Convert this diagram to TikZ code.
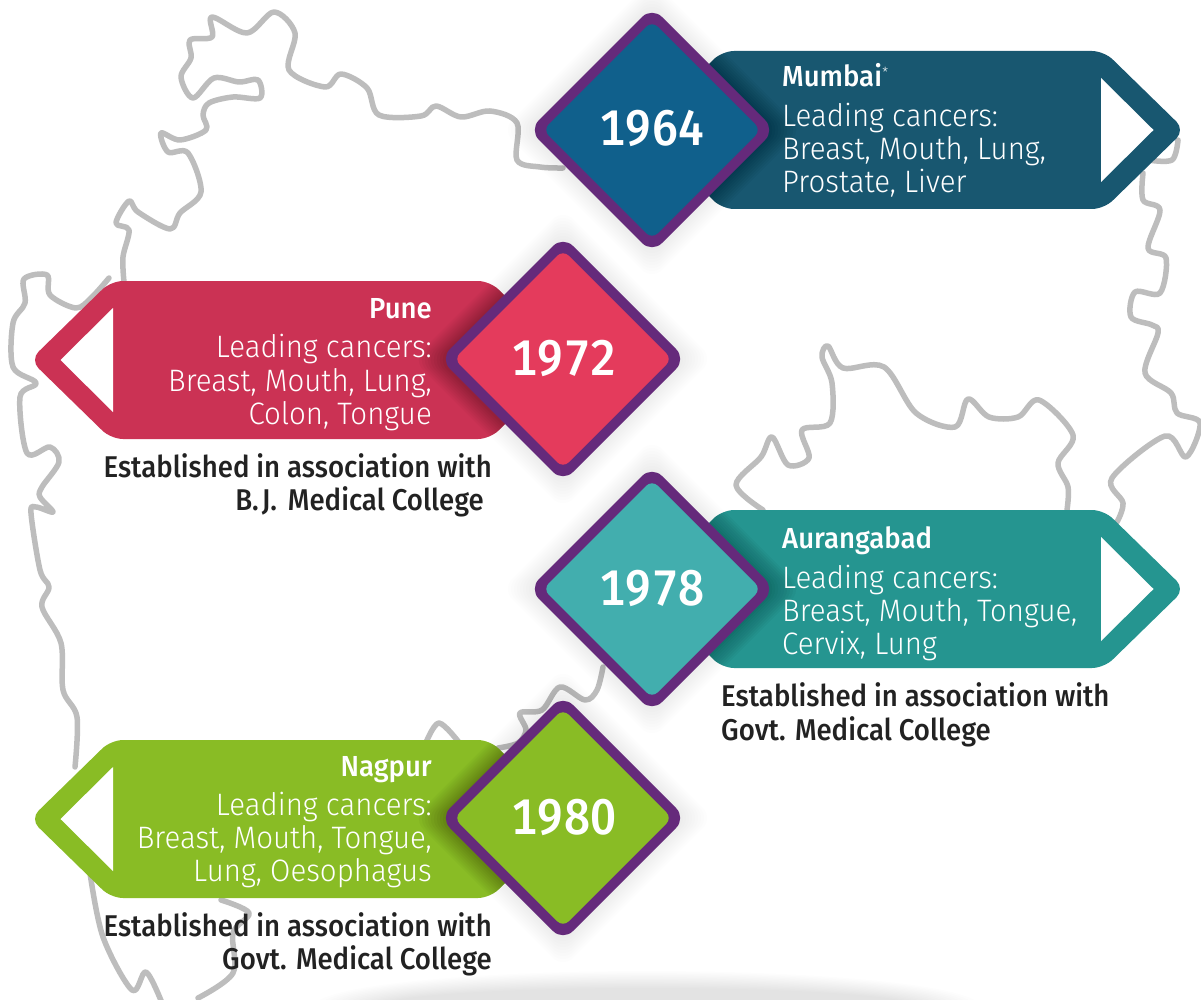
\documentclass[tikz,border=0pt]{standalone}
\usepackage{fontspec}
\setmainfont{Fira Sans}
\newfontfamily\lightf[FakeStretch=0.95]{Fira Sans Light}
\newfontfamily\cityf[FakeStretch=0.95]{Fira Sans Medium}
\newfontfamily\notef[FakeStretch=0.92]{Fira Sans Medium}
\newfontfamily\yearf[FakeStretch=0.93,Numbers=Monospaced]{Fira Sans Medium}
\definecolor{mapgray}{HTML}{BDBDBD}
\definecolor{ringpurple}{HTML}{652A7B}
\definecolor{mumA}{HTML}{185770}\definecolor{mumB}{HTML}{10608C}
\definecolor{punA}{HTML}{CB3254}\definecolor{punB}{HTML}{E43B5C}
\definecolor{aurA}{HTML}{259590}\definecolor{aurB}{HTML}{42AEAE}
\definecolor{nagA}{HTML}{89BC25}\definecolor{nagB}{HTML}{89BC25}
\definecolor{inkblack}{HTML}{222222}
\tikzset{
  x=1pt,y=-1pt,
  mapline/.style={draw=mapgray,line width=5.5pt,line cap=round,line join=round},
  city/.style={inner sep=0pt,text=white,font=\cityf\fontsize{29}{29}\selectfont},
  body/.style={inner sep=0pt,text=white,font=\lightf\fontsize{31}{31}\selectfont},
  note/.style={inner sep=0pt,text=inkblack,font=\notef\fontsize{30}{30}\selectfont},
  year/.style={inner sep=0pt,text=white,font=\yearf\fontsize{50}{50}\selectfont},
}
% nested dark diamonds: #1 cx, #2 cy, #3 opacity
\newcommand{\halo}[3]{%
  \foreach \k in {1,...,9}{%
    \fill[black,opacity=#3,rounded corners=14pt] (#1-123-\k*3,#2) -- (#1,#2-123-\k*3) -- (#1+123+\k*3,#2) -- (#1,#2+123+\k*3) -- cycle;}}
% right-pointing banner: #1 centre y, #2 colour
\newcommand{\bannerR}[2]{%
  \fill[#2,rounded corners=12pt] (643,#1) -- (722,#1-79) -- (1104,#1-79) -- (1185,#1) -- (1104,#1+79) -- (722,#1+79) -- cycle;
  \begin{scope}
    \clip[rounded corners=12pt] (643,#1) -- (722,#1-79) -- (1104,#1-79) -- (1185,#1) -- (1104,#1+79) -- (722,#1+79) -- cycle;
    \halo{652}{#1}{0.02}
  \end{scope}
  \fill[white] (1101,#1-52) -- (1153.5,#1) -- (1101,#1+52) -- cycle;}
% left-pointing banner
\newcommand{\bannerL}[2]{%
  \fill[#2,rounded corners=12pt] (569,#1) -- (490,#1-79) -- (111,#1-79) -- (30,#1) -- (111,#1+79) -- (490,#1+79) -- cycle;
  \begin{scope}
    \clip[rounded corners=12pt] (569,#1) -- (490,#1-79) -- (111,#1-79) -- (30,#1) -- (111,#1+79) -- (490,#1+79) -- cycle;
    \halo{563}{#1}{0.02}
  \end{scope}
  \fill[white] (113,#1-52) -- (60.5,#1) -- (113,#1+52) -- cycle;}
% diamond with glow and ring: #1 cx, #2 cy, #3 fill
\newcommand{\gem}[3]{%
  \halo{#1}{#2}{0.007}
  \fill[ringpurple,rounded corners=14pt] (#1-123,#2) -- (#1,#2-123) -- (#1+123,#2) -- (#1,#2+123) -- cycle;
  \fill[#3,rounded corners=8pt] (#1-109,#2) -- (#1,#2-109) -- (#1+109,#2) -- (#1,#2+109) -- cycle;}
\begin{document}
\begin{tikzpicture}
\useasboundingbox (0,0) rectangle (1201,1000);
\fill[white] (0,0) rectangle (1201,1000);
\begin{scope}
\clip (0,0) rectangle (1201,1000);
\foreach \k in {0,...,13}{%
  \fill[black,opacity=0.009] (647,1006) ellipse [x radius={332-\k*5},y radius={35-\k*1.3}];}
\draw[mapline] plot[smooth,tension=.55] coordinates {(563,168)(540,167)(517,160)(517,123)(490,111)(461,117)(436,106)(421,116)(379,115)(367,88)(341,74)(325,87)(289,70)(295,33)(274,12)(247,33)(212,17)(212,37)(190,40)(191,58)(181,77)(193,98)(214,78)(239,82)(258,80)(260,98)(233,97)(209,103)(203,115)(206,130)(180,140)(161,133)(168,152)(188,153)(201,192)(180,213)(170,229)(138,212)(129,201)(116,223)(129,230)(123,257)(124,282)};
\draw[mapline] plot[smooth,tension=.55] coordinates {(109,278)(92,297)(76,308)(50,295)(47,275)(24,279)(25,303)(13,323)(13,367)(36,383)(20,397)(27,453)(50,447)(59,462)(42,487)(40,497)(53,512)(36,507)(31,513)(40,570)(49,587)(42,607)(61,643)(63,690)(77,717)(75,767)};
\draw[mapline] plot[smooth,tension=.55] coordinates {(90,873)(103,937)(132,990)(146,972)(162,1003)};
\draw[mapline] plot[smooth,tension=.55] coordinates {(198,998)(233,973)(233,933)(249,913)(221,900)};
\draw[mapline] plot[smooth,tension=.55] coordinates {(425,745)(439,723)(461,745)};
\draw[mapline] plot[smooth,tension=.55] coordinates {(498,748)(518,743)(526,730)(520,713)(542,710)(560,687)(585,700)(597,690)(603,667)};
\draw[mapline] plot[smooth,tension=.55] coordinates {(763,510)(736,485)(761,457)(772,437)(788,465)(809,458)(802,430)(830,423)(832,383)(822,357)(828,346)(843,368)(884,367)(916,413)(955,427)(968,399)(989,417)(1018,417)(1039,400)(1073,435)(1058,463)(1068,487)(1067,510)};
\draw[mapline] plot[smooth,tension=.55] coordinates {(1117,522)(1123,503)(1112,478)(1165,436)(1186,457)(1200,423)(1177,413)(1171,393)(1145,373)(1158,333)(1152,325)(1131,317)(1135,292)(1160,293)(1166,258)(1148,248)(1160,210)(1143,200)(1143,173)};
\draw[mapline] plot[smooth,tension=.55] coordinates {(1148,160)(1172,160)(1178,140)};
\end{scope}
% banners and diamonds
\bannerR{130}{mumA}\gem{652}{130}{mumB}
\bannerL{360}{punA}\gem{563}{359}{punB}
\bannerR{589}{aurA}\gem{652}{589}{aurB}
\bannerL{819}{nagA}\gem{563}{818}{nagB}
% years
\node[year,anchor=base] (y64) at (652,146) {1964};
\node[year,anchor=base] (y72) at (564,375) {1972};
\node[year,anchor=base] (y78) at (652,605) {1978};
\node[year,anchor=base] (y80) at (564,834) {1980};
% Mumbai
\node[city,anchor=base west] (c1) at (782,87) {Mumbai};
\node[inner sep=0pt,text=white,font=\lightf\fontsize{14}{14}\selectfont,anchor=base west] (c1s) at (c1.base east) [yshift=9pt] {*};
\node[body,anchor=base west] (m1) at (782,127) {Leading cancers:};
\node[body,anchor=base west] (m2) at (782,160) {Breast, Mouth, Lung,};
\node[body,anchor=base west] (m3) at (782,193) {Prostate, Liver};
% Pune
\node[city,anchor=base east] (c2) at (432,318) {Pune};
\node[body,anchor=base east] (p1) at (432,357) {Leading cancers:};
\node[body,anchor=base east] (p2) at (432,391) {Breast, Mouth, Lung,};
\node[body,anchor=base east] (p3) at (432,424) {Colon, Tongue};
\node[note,anchor=base east] (pn1) at (492,477) {Established in association with};
\node[note,anchor=base east] (pn2) at (484,510) {B.\kern3pt J.\kern4pt\ Medical College};
% Aurangabad
\node[city,anchor=base west] (c3) at (782,548) {Aurangabad};
\node[body,anchor=base west] (a1) at (782,588) {Leading cancers:};
\node[body,anchor=base west] (a2) at (782,621) {Breast, Mouth, Tongue,};
\node[body,anchor=base west] (a3) at (782,654) {Cervix, Lung};
\node[note,anchor=base west] (an1) at (721,706) {Established in association with};
\node[note,anchor=base west] (an2) at (721,740) {Govt. Medical College};
% Nagpur
\node[city,anchor=base east] (c4) at (432,776) {Nagpur};
\node[body,anchor=base east] (n1) at (432,815) {Leading cancers:};
\node[body,anchor=base east] (n2) at (432,848) {Breast, Mouth, Tongue,};
\node[body,anchor=base east] (n3) at (432,881) {Lung, Oesophagus};
\node[note,anchor=base east] (nn1) at (492,936) {Established in association with};
\node[note,anchor=base east] (nn2) at (492,969) {Govt. Medical College};
\end{tikzpicture}
\end{document}
